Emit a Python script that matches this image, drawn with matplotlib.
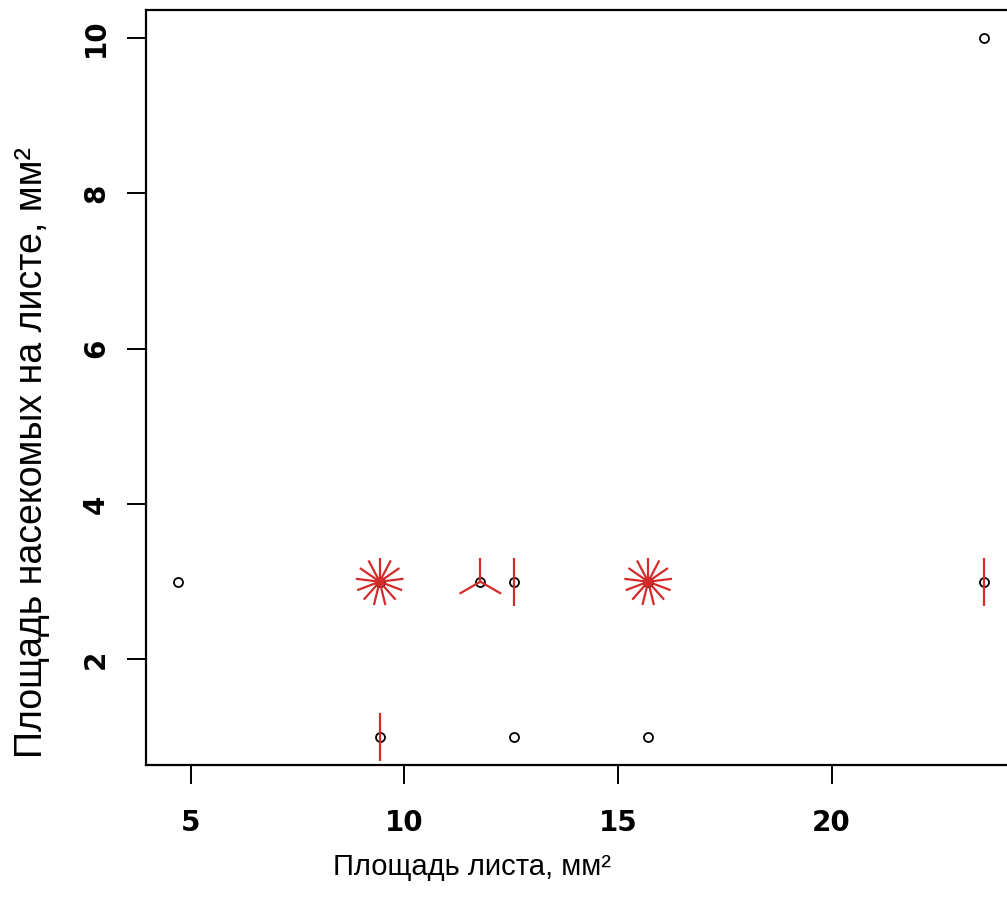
import numpy as np
import matplotlib.pyplot as plt

# sunflower plot data: unique (x, y) points and how many observations each holds
leaf_area = [4.712, 9.425, 11.781, 12.566, 15.708, 23.562, 9.425, 12.566, 15.708, 23.562]
insect_area = [3, 3, 3, 3, 3, 3, 1, 1, 1, 10]
counts = [1, 13, 3, 2, 13, 2, 2, 1, 1, 1]

x_ticks = [5, 10, 15, 20]
y_ticks = [2, 4, 6, 8, 10]

fig = plt.figure(figsize=(10.07, 9.18), dpi=100)
ax = fig.add_axes([0.145, 0.1667, 0.864, 0.8223])

# R style 4% padding
xr = max(leaf_area) - min(leaf_area)
yr = max(insect_area) - min(insect_area)
ax.set_xlim(min(leaf_area) - 0.04 * xr, max(leaf_area) + 0.04 * xr)
ax.set_ylim(min(insect_area) - 0.04 * yr, max(insect_area) + 0.04 * yr)

# petal length in pixels -> data units
petal_px = 24
bbox = ax.get_window_extent()
dx_per_px = (ax.get_xlim()[1] - ax.get_xlim()[0]) / bbox.width
dy_per_px = (ax.get_ylim()[1] - ax.get_ylim()[0]) / bbox.height

ax.plot(leaf_area, insect_area, 'o', ms=6.5, mfc='none', mec='black', mew=1.3,
        ls='none', zorder=2)

for x, y, n in zip(leaf_area, insect_area, counts):
    if n > 1:
        deg = 2 * np.pi * np.arange(1, n + 1) / n
        for d in deg:
            ax.plot([x, x + petal_px * dx_per_px * np.sin(d)],
                    [y, y + petal_px * dy_per_px * np.cos(d)],
                    color='#d42a2a', lw=1.6, solid_capstyle='butt', zorder=3)

for s in ax.spines.values():
    s.set_linewidth(1.6)

ax.set_xticks(x_ticks)
ax.set_yticks(y_ticks)
ax.tick_params(length=14, width=1.4, labelsize=20)
ax.tick_params(axis='x', pad=18)
ax.tick_params(axis='y', pad=12)
for lab in ax.get_xticklabels():
    lab.set_fontweight('bold')
for lab in ax.get_yticklabels():
    lab.set_fontweight('bold')
    lab.set_rotation(90)
    lab.set_va('center')

fig.text(472 / 1007, 1 - 867 / 918, 'Площадь листа, мм²', ha='center', va='center',
         fontsize=21, family='Liberation Sans')
fig.text(32 / 1007, 1 - 452 / 918, 'Площадь насекомых на листе, мм²', ha='center',
         va='center', rotation=90, fontsize=27, family='Liberation Sans')

plt.savefig('out.png', dpi=100)
plt.close()
